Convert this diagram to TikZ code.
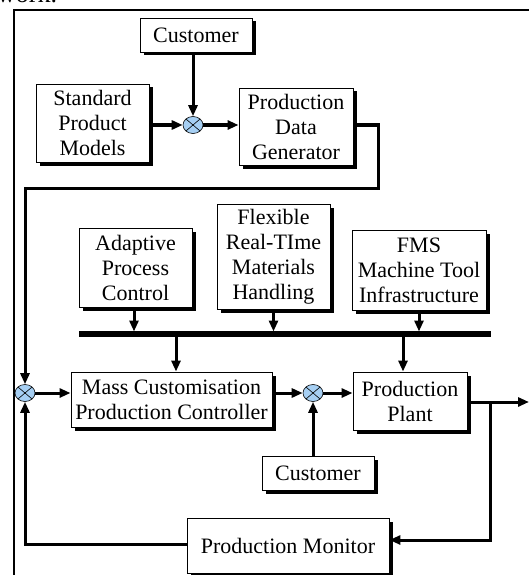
\documentclass[tikz,border=0pt]{standalone}
\usepackage{fontspec}
\setmainfont{Liberation Serif}
\usetikzlibrary{arrows.meta,shadows,shapes.geometric}
\definecolor{jblue}{HTML}{A6CFF3}
\begin{document}
\begin{tikzpicture}[x=1pt,y=-1pt,
  blk/.style={draw=black,line width=0.9pt,fill=white,align=center,inner sep=0pt,
    font=\fontsize{22}{25}\selectfont,
    drop shadow={shadow xshift=3.5pt,shadow yshift=-3.5pt,fill=black,opacity=1}},
  sumj/.style={ellipse,draw=black,line width=0.6pt,fill=jblue,minimum width=20pt,minimum height=17pt,inner sep=0pt,
    path picture={\draw[line width=0.6pt] (path picture bounding box.north west)--(path picture bounding box.south east)
      (path picture bounding box.north east)--(path picture bounding box.south west);}},
  conn/.style={line width=3pt},
  arr/.style={line width=3pt,-{Triangle[length=11pt,width=9pt]}},
  bus/.style={line width=5.5pt}]
\useasboundingbox (0,0) rectangle (529,575);
% frame and cut text
\node[anchor=base west,inner sep=0pt,font=\fontsize{26}{28}\selectfont] (cut) at (-3,3) {work.};
\draw[line width=1.2pt] (14,580) -- (14,10) -- (535,10);
% blocks
\node[blk,minimum width=112pt,minimum height=34pt] (cust1) at (196,35) {Customer};
\node[blk,minimum width=113pt,minimum height=78pt] (spm) at (92.5,123) {Standard\\Product\\Models};
\node[blk,minimum width=114pt,minimum height=77pt] (pdg) at (296,126.5) {Production\\Data\\Generator};
\node[blk,minimum width=113pt,minimum height=79pt] (apc) at (135.5,267.5) {Adaptive\\Process\\Control};
\node[blk,minimum width=113pt,minimum height=105pt] (frt) at (273.5,256.5) {Flexible\\Real-TIme\\Materials\\Handling};
\node[blk,minimum width=134pt,minimum height=80pt] (fms) at (419,270) {FMS\\Machine Tool\\Infrastructure};
\node[blk,minimum width=201pt,minimum height=55pt] (mcpc) at (171.5,399.5) {Mass Customisation\\Production Controller};
\node[blk,minimum width=114pt,minimum height=58pt] (pp) at (410,401) {Production\\Plant};
\node[blk,minimum width=112pt,minimum height=34pt] (cust2) at (318,473) {Customer};
\node[blk,minimum width=202pt,minimum height=55pt] (pm) at (288,545.5) {Production Monitor};
% junctions
\node[sumj] (j1) at (193,125) {};
\node[sumj] (jL) at (25,393) {};
\node[sumj] (j2) at (313,393) {};
% bus
\coordinate (busL) at (79,334);
\coordinate (busR) at (491,334);
\draw[bus] (busL) -- (busR);
% top part
\draw[arr] (j1 |- cust1.south) -- (j1.north);
\draw[arr] (spm.east |- j1) -- (j1.west);
\draw[arr] (j1.east) -- (j1 -| pdg.west);
\coordinate (a1) at (378,188);
\draw[arr] (pdg.east |- 0,125) -| (a1) -| (jL.north);
% into bus
\draw[arr,shorten >=2.5pt] (apc.south -| 134,0) -- (134,334);
\draw[arr,shorten >=2.5pt] (frt.south) -- (frt.south |- busL);
\draw[arr,shorten >=2.5pt] (fms.south) -- (fms.south |- busL);
% out of bus
\draw[arr] (176,334) -- (176,0 |- mcpc.north);
\draw[arr] (403,334) -- (403,0 |- pp.north);
% main loop
\draw[arr] (jL.east) -- (jL -| mcpc.west);
\draw[arr] (mcpc.east |- j2) -- (j2.west);
\draw[arr] (j2.east) -- (j2 -| pp.west);
\draw[arr] (j2 |- cust2.north) -- (j2.south);
\coordinate (b1) at (490,402);
\coordinate (b2) at (490,540);
\coordinate (out) at (529,402);
\draw[arr] (pp.east |- b1) -- (out);
\draw[arr] (b1) -- (b2) -- (b2 -| pm.east);
\draw[arr] (pm.west |- 0,544) -| (jL.south);
\end{tikzpicture}
\end{document}
